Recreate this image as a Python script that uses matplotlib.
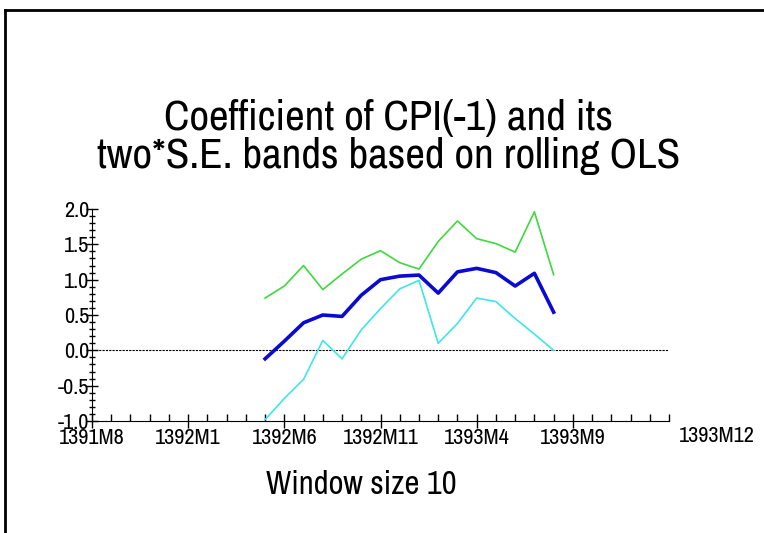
import matplotlib.pyplot as plt
from matplotlib.ticker import MultipleLocator
from matplotlib.lines import Line2D

# periodi (calendario persiano, mensile)
periods = ['1392M5', '1392M6', '1392M7', '1392M8', '1392M9', '1392M10', '1392M11', '1392M12',
           '1393M1', '1393M2', '1393M3', '1393M4', '1393M5', '1393M6', '1393M7', '1393M8']

coef = [-0.12, 0.13, 0.39, 0.50, 0.48, 0.78, 1.00, 1.05,
        1.065, 0.81, 1.11, 1.16, 1.10, 0.91, 1.09, 0.54]
upper = [0.74, 0.91, 1.20, 0.86, 1.08, 1.29, 1.41, 1.24,
         1.15, 1.54, 1.83, 1.58, 1.51, 1.39, 1.96, 1.07]
lower = [-0.98, -0.68, -0.41, 0.14, -0.12, 0.29, 0.59, 0.87,
         0.99, 0.10, 0.38, 0.74, 0.69, 0.45, 0.23, 0.00]

tick_labels = ['1391M8', '1392M1', '1392M6', '1392M11', '1393M4', '1393M9']
end_label = '1393M12'


def month_index(p, start=(1391, 8)):
    y, m = p.split('M')
    return (int(y) - start[0]) * 12 + int(m) - start[1]


plt.rcParams['font.family'] = ['Archivo Narrow', 'Liberation Sans', 'DejaVu Sans']

fig = plt.figure(figsize=(7.64, 5.33), dpi=100)
ax = fig.add_axes([0.1204, 0.2101, 0.7553, 0.3978])

x = [month_index(p) for p in periods]
ax.axhline(0, color='black', lw=0.8, ls=(0, (2, 1)))
ax.plot(x, upper, color='#3fd83f', lw=1.2)
ax.plot(x, lower, color='#3ee6e6', lw=1.2)
ax.plot(x, coef, color='#0a0ad2', lw=2.6)

ax.set_xlim(0, 30)
ax.set_ylim(-1.0, 2.0)
ax.set_xticks([month_index(t) for t in tick_labels])
ax.set_xticklabels(tick_labels)
ax.xaxis.set_minor_locator(MultipleLocator(1))
ax.yaxis.set_major_locator(MultipleLocator(0.5))
ax.yaxis.set_minor_locator(MultipleLocator(0.1))
ax.set_yticklabels([f'{v:.1f}' for v in ax.get_yticks()])
ax.tick_params(axis='x', which='major', direction='inout', length=10, width=1, labelsize=16, pad=0)
ax.tick_params(axis='x', which='minor', direction='in', length=5, width=1)
ax.tick_params(axis='y', which='major', direction='inout', length=8, width=1, labelsize=16, pad=-2)
ax.tick_params(axis='y', which='minor', direction='inout', length=5, width=1)
ax.annotate(end_label, (30, -1.0), xytext=(10, -5), textcoords='offset pixels',
            fontsize=16, ha='left', va='top')
for s in ['top', 'right']:
    ax.spines[s].set_visible(False)

fig.text(0.509, 0.743, 'Coefficient of CPI(-1) and its\ntwo*S.E. bands based on rolling OLS',
         ha='center', va='center', fontsize=31, linespacing=1.0)
fig.text(0.4725, 0.09, 'Window size 10', ha='center', va='center', fontsize=23.5)

# cornice
fig.add_artist(Line2D([0.007, 0.007], [0, 0.981], transform=fig.transFigure, color='black', lw=2))
fig.add_artist(Line2D([0.007, 1], [0.981, 0.981], transform=fig.transFigure, color='black', lw=2))

fig.savefig('out.png', dpi=100)
